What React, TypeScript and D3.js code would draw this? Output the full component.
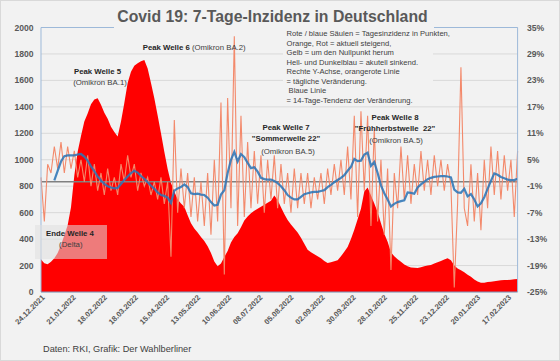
import React from "react";
import * as d3 from "d3";

// sampled every 3 days starting 22.12.2021
const START = new Date(2021, 11, 22);
const STEP_DAYS = 3;
const SPAN_DAYS = 429;

// 7-Tage-Inzidenz (left axis)
const incidence = [
  245, 218, 210, 228, 255, 295, 355, 430, 505, 640,
  880, 1060, 1180, 1290, 1350, 1420, 1455, 1465, 1415, 1355,
  1310, 1250, 1210, 1175, 1290, 1430, 1580, 1665, 1710, 1730,
  1745, 1755, 1690, 1580, 1465, 1335, 1200, 1060, 930, 825,
  760, 700, 670, 645, 580, 520, 480, 450, 415, 385,
  345, 295, 230, 195, 215, 265, 310, 375, 415, 445,
  490, 540, 570, 595, 615, 630, 645, 660, 675, 690,
  730, 695, 640, 590, 545, 510, 480, 450, 410, 365,
  320, 300, 285, 270, 255, 235, 220, 225, 232, 240,
  270, 305, 340, 400, 470, 550, 630, 760, 790, 730,
  670, 605, 520, 440, 380, 300, 270, 248, 228, 207,
  195, 186, 183, 182, 188, 195, 200, 205, 215, 225,
  235, 245, 255, 240, 200, 178, 165, 150, 130, 115,
  95, 80, 70, 70, 75, 78, 82, 85, 88, 90,
  91, 92, 96, 98,
];

// tägliche Veränderung in % (right axis)
const dailyChange = [
  1, -9, 4, 2, 8, 3, 9, 2, 8, 3,
  7, 1, 5, 0, 6, -1, 4, -2, 2, -3,
  3, -2, 1, -3, 4, 0, 6, 1, 4, -2,
  2, -1, 1, -3, 0, -4, 1, -5, 0, -17,
  14, -7, 3, -6, 2, -8, 1, -9, 0, -10,
  2, -12, 5, -9, 18, -21, 19, -6, 33, -10,
  15, -8, 9, -6, 7, -5, 6, -7, 5, -4,
  6, -6, 4, -5, 2, -7, 3, -6, 2, -5,
  2, -6, 1, -4, 2, -5, 3, -3, 4, -2,
  5, -3, 8, -4, 15, -8, 16, -2, 15, -10,
  12, -9, 5, -12, 3, -20, 2, -6, 8, -4,
  6, -5, 4, -3, 7, -2, 5, -3, 6, -1,
  5, -2, 4, -1, -24, -5, 26, -6, -10, 4,
  -9, 2, -11, 5, -6, 8, -3, 7, -4, 6,
  -2, 5, -8, 7,
];

// 14-Tage-Tendenz in % (right axis)
const trend14: (number | null)[] = [
  null, null, null, null, 0.3, 2.5, 4.6, 5.8, 6.0, 6.0,
  6.0, 6.2, 6.3, 5.7, 4.8, 3.5, 2.4, 1.2, 0.3, -0.5,
  -1.0, -1.3, -1.5, -1.4, -0.5, 0.4, 1.2, 2.0, 2.5, 2.1,
  1.3, 0.7, -0.1, -0.9, -1.6, -2.4, -3.0, -3.2, -3.6, -4.8,
  -2.0, -1.5, -1.2, -0.6, -1.2, -2.6, -2.8, -2.7, -2.9, -3.0,
  -3.6, -4.6, -5.4, -5.2, -2.9, -1.9, 2.0, 5.0, 6.8, 4.6,
  6.3, 5.6, 4.3, 3.1, 3.3, 2.3, 0.9, 0.6, 0.5, 0.5,
  0.2, -0.3, -1.0, -1.9, -3.0, -3.6, -4.0, -4.0, -3.4, -2.8,
  -2.6, -2.4, -2.3, -2.3, -2.1, -1.9, -1.2, -0.7, -0.1, 0.4,
  0.9, 1.5, 2.5, 3.4, 5.2, 4.7, 4.8, 6.2, 6.6, 3.6,
  4.5, 2.0, -0.8, -2.6, -4.0, -5.6, -5.0, -4.6, -4.4, -4.2,
  -2.4, -2.5, -2.7, -1.3, -0.6, 0.0, 0.6, 0.9, 1.1, 1.2,
  1.3, 1.3, 1.2, 1.0, -1.8, -2.4, -2.5, -1.6, -3.3, -2.8,
  -4.0, -5.6, -4.9, -3.5, -1.6, 0.2, 1.9, 1.6, 1.1, 0.8,
  0.5, 0.4, 0.4, 0.7,
];

const leftTicks = [0, 200, 400, 600, 800, 1000, 1200, 1400, 1600, 1800, 2000];
const rightTicks = [-25, -19, -13, -7, -1, 5, 11, 17, 23, 29, 35];
const xTickLabels = [
  "24.12.2021", "21.01.2022", "18.02.2022", "18.03.2022", "15.04.2022",
  "13.05.2022", "10.06.2022", "08.07.2022", "05.08.2022", "02.09.2022",
  "30.09.2022", "28.10.2022", "25.11.2022", "23.12.2022", "20.01.2023",
  "17.02.2023",
];
const legendLines = [
  "Rote / blaue Säulen = Tagesinzidenz in Punkten,",
  "Orange, Rot = aktuell steigend,",
  "Gelb = um den Nullpunkt herum",
  "Hell- und Dunkelblau = akutell sinkend.",
  "Rechte Y-Achse, orangerote Linie",
  "= tägliche Veränderung.",
  " Blaue Linie",
  "= 14-Tage-Tendenz der Veränderung.",
];

const W = 560;
const H = 361;
const left = 41;
const right = 517.6;
const top = 27.5;
const bottom = 292;
const FONT = "'Liberation Sans', Arial, sans-serif";

const parseDE = (s: string) => {
  const [d, m, y] = s.split(".").map(Number);
  return new Date(y, m - 1, d);
};

export default function App() {
  const dates = incidence.map((_, i) => d3.timeDay.offset(START, i * STEP_DAYS));

  const x = d3
    .scaleTime()
    .domain([START, d3.timeDay.offset(START, SPAN_DAYS)])
    .range([left, right]);
  const yL = d3.scaleLinear().domain([0, 2000]).range([bottom, top]);
  const yR = d3.scaleLinear().domain([-25, 35]).range([bottom, top]);

  const redArea = d3
    .area<number>()
    .x((_, i) => x(dates[i]))
    .y0(yL(0))
    .y1((d) => yL(d));

  const orangeLine = d3
    .line<number>()
    .x((_, i) => x(dates[i]))
    .y((d) => yR(d));

  const blueLine = d3
    .line<number | null>()
    .defined((d) => d !== null)
    .x((_, i) => x(dates[i]))
    .y((d) => yR(d as number));

  return (
    <svg
      width={W}
      height={H}
      style={{ position: "absolute", left: 0, top: 0, display: "block" }}
      fontFamily={FONT}
    >
      <rect x={0.5} y={0.5} width={W - 1} height={H - 1} fill="#F2F2F2" stroke="#D9D9D9" />

      {/* grid */}
      {leftTicks.map((t) => (
        <line key={t} x1={left} x2={right} y1={yL(t)} y2={yL(t)} stroke="#D9D9D9" strokeWidth={1} />
      ))}

      <path d={redArea(incidence) || ""} fill="#FF0000" />

      {/* zero line of right axis */}
      <line x1={left} x2={right} y1={yR(0)} y2={yR(0)} stroke="#808080" strokeWidth={1.5} />

      <path d={orangeLine(dailyChange) || ""} fill="none" stroke="#F3896B" strokeWidth={1.1} />
      <path d={blueLine(trend14) || ""} fill="none" stroke="#2E75B6" strokeWidth={2.2} strokeOpacity={0.88} />

      {/* plot frame */}
      <line x1={left} x2={right} y1={top} y2={top} stroke="#9DB9D9" />
      <line x1={left} x2={left} y1={top} y2={bottom} stroke="#9DB9D9" />
      <line x1={right} x2={right} y1={top} y2={bottom} stroke="#9DB9D9" />
      <line x1={left} x2={right} y1={bottom} y2={bottom} stroke="#7F96B8" />

      {/* title */}
      <rect x={114} y={4} width={320} height={25} fill="#F2F2F2" />
      <text x={272.5} y={21.7} textAnchor="middle" fontSize={15.8} fontWeight="bold" fill="#595959">
        Covid 19: 7-Tage-Inzidenz in Deutschland
      </text>

      {/* legend text box */}
      <rect x={283} y={26} width={150} height={80} fill="#F2F2F2" />
      {legendLines.map((l, i) => (
        <text key={i} x={286.5} y={36 + i * 9.5} fontSize={7.6} fill="#404040" style={{ whiteSpace: "pre" }}>
          {l}
        </text>
      ))}

      {/* Ende Welle 4 box */}
      <rect x={35} y={225} width={72} height={34} fill="#E0E0E0" fillOpacity={0.55} />
      <text x={46} y={236} fontSize={7.8} fontWeight="bold" fill="#262626">Ende Welle 4</text>
      <text x={70.8} y={246.5} fontSize={7.8} fill="#404040" textAnchor="middle">(Delta)</text>

      {/* peak annotations */}
      <text x={97.5} y={74} fontSize={7.8} fontWeight="bold" fill="#262626" textAnchor="middle">Peak Welle 5</text>
      <text x={100} y={84.5} fontSize={7.8} fill="#404040" textAnchor="middle">(Omikron BA.1)</text>

      <text x={142.7} y={49.5} fontSize={7.8} fill="#404040">
        <tspan fontWeight="bold" fill="#262626">Peak Welle 6</tspan>
        <tspan> (Omikron BA.2)</tspan>
      </text>

      <text x={286} y={130} fontSize={7.8} fontWeight="bold" fill="#262626" textAnchor="middle">Peak Welle 7</text>
      <text x={286} y={141} fontSize={7.8} fontWeight="bold" fill="#262626" textAnchor="middle">"Sommerwelle 22"</text>
      <text x={288} y={154} fontSize={7.8} fill="#404040" textAnchor="middle">(Omikron BA.5)</text>

      <text x={395} y={120} fontSize={7.8} fontWeight="bold" fill="#262626" textAnchor="middle">Peak Welle 8</text>
      <text x={395} y={130.5} fontSize={7.8} fontWeight="bold" fill="#262626" textAnchor="middle" style={{ whiteSpace: "pre" }}>
        "Frühherbstwelle  22"
      </text>
      <text x={396} y={143} fontSize={7.8} fill="#404040" textAnchor="middle">(Omikron BA.5)</text>

      {/* left axis */}
      {leftTicks.map((t) => (
        <text key={t} x={33.5} y={yL(t)} dy="0.35em" textAnchor="end" fontSize={8.6} fontWeight="bold" fill="#595959">
          {t}
        </text>
      ))}

      {/* right axis */}
      {rightTicks.map((t) => (
        <text key={t} x={527} y={yR(t)} dy="0.35em" fontSize={8.6} fontWeight="bold" fill="#595959">
          {t}%
        </text>
      ))}

      {/* x axis */}
      {xTickLabels.map((s) => {
        const px = x(parseDE(s));
        return (
          <text
            key={s}
            transform={`translate(${px + 2},${bottom + 6}) rotate(-45)`}
            textAnchor="end"
            fontSize={7.6}
            fontWeight="bold"
            fill="#595959"
          >
            {s}
          </text>
        );
      })}

      <text x={43} y={352} fontSize={9.2} fill="#404040">
        Daten: RKI, Grafik: Der Wahlberliner
      </text>
    </svg>
  );
}
